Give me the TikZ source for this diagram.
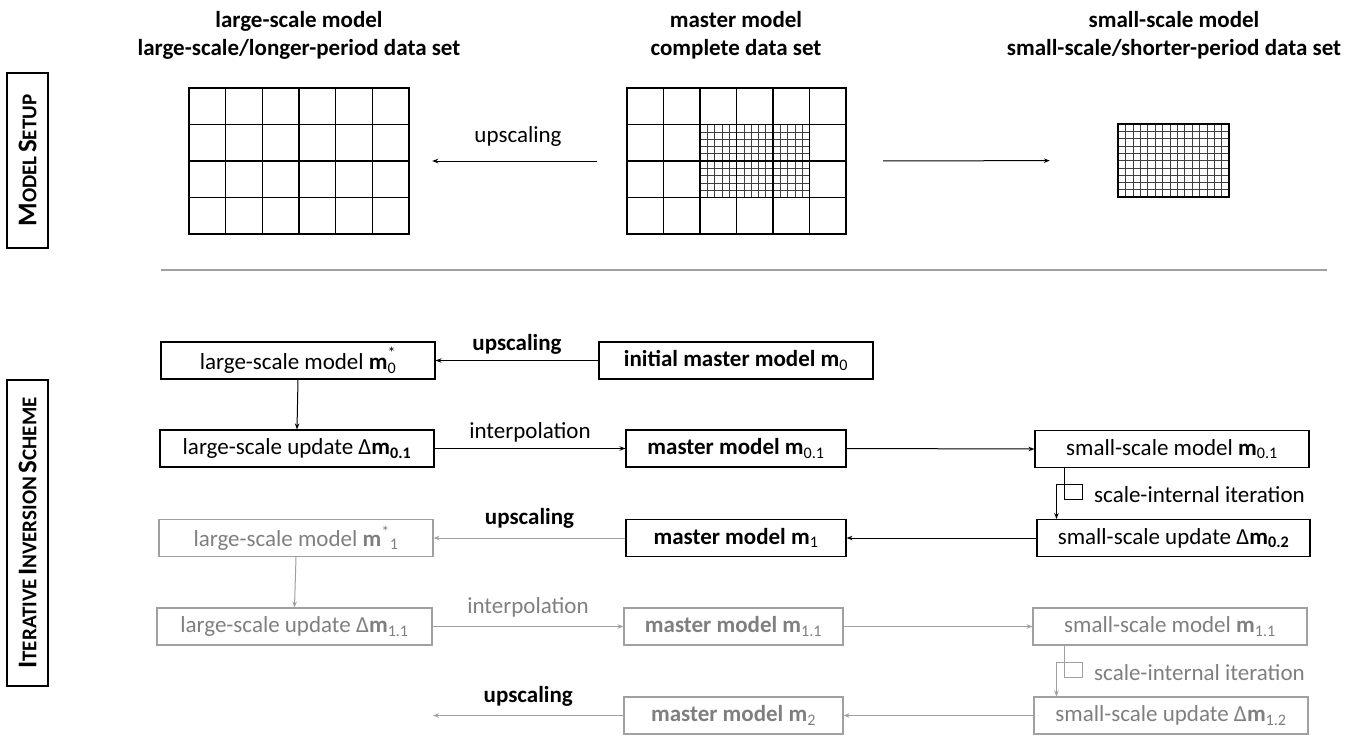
\documentclass[tikz,border=0pt]{standalone}
\usepackage{fontspec}
\setmainfont{Carlito}
\usetikzlibrary{arrows.meta,calc}
\definecolor{gline}{HTML}{A0A0A0}
\definecolor{gtext}{HTML}{7F7F7F}
\newcommand{\subsup}[2]{\rlap{\textsubscript{#1}}\raisebox{2pt}{\textsuperscript{#2}}}
\newcommand{\bigsc}[1]{{\fontsize{27}{27}\selectfont #1}}
\newcommand{\smsc}[1]{{\fontsize{21}{21}\selectfont #1}}
\newcommand{\scsp}{\hspace{0.35em}}
\begin{document}
\begin{tikzpicture}[x=1pt,y=-1pt, font=\fontsize{23}{28}\selectfont,
 box/.style={draw, line width=1.1pt, minimum height=37pt, inner sep=0pt},
 gbox/.style={box, draw=gline, text=gtext},
 arr/.style={-{Stealth[length=6pt,width=4.5pt]}, line width=1pt},
 garr/.style={arr, draw=gline},
 side/.style={draw, line width=1.6pt, rotate=90, minimum height=41pt, inner sep=0pt, font=\bfseries},
 title/.style={align=center, font=\fontsize{23}{28}\selectfont\bfseries},
 lbl/.style={inner sep=0pt},
 coarse/.style={line width=1.1pt},
 fine/.style={line width=0.6pt, draw=black!75},
 border/.style={line width=1.7pt}
]
\useasboundingbox (0,0) rectangle (1364,736);

% side labels
\node[side, minimum width=175pt] (sideA) at (27.5,160.5)
  {\bigsc{M}\smsc{ODEL}\scsp\bigsc{S}\smsc{ETUP}};
\node[side, minimum width=306pt] (sideB) at (27.5,533)
  {\bigsc{I}\smsc{TERATIVE}\scsp\bigsc{I}\smsc{NVERSION}\scsp\bigsc{S}\smsc{CHEME}};

% titles
\node[title] (tA) at (299,35) {large-scale model\\large-scale/longer-period data set};
\node[title] (tB) at (736,35) {master model\\complete data set};
\node[title] (tC) at (1174,35) {small-scale model\\small-scale/shorter-period data set};

% grid frames as nodes
\node[minimum width=220pt, minimum height=146pt, inner sep=0pt] (gl) at (299,161) {};
\node[minimum width=219pt, minimum height=146pt, inner sep=0pt] (gm) at (736.5,161) {};
\node[minimum width=111pt, minimum height=73pt, inner sep=0pt] (gs) at (1173.5,160.5) {};

% large-scale grid
\foreach \i in {1,...,5} \draw[coarse] (189+\i*36.667,88) -- (189+\i*36.667,234);
\foreach \j in {1,...,3} \draw[coarse] (189,88+\j*36.5) -- (409,88+\j*36.5);
\draw[border] (189,88) rectangle (409,234);

% master grid
\foreach \i in {1,...,14} \draw[fine] (700+\i*7.3,124.5) -- (700+\i*7.3,197.5);
\foreach \j in {1,...,9} \draw[fine] (700,124.5+\j*7.3) -- (809.5,124.5+\j*7.3);
\foreach \i in {1,...,5} \draw[coarse] (627+\i*36.5,88) -- (627+\i*36.5,234);
\foreach \j in {1,...,3} \draw[coarse] (627,88+\j*36.5) -- (846,88+\j*36.5);
\draw[border] (627,88) rectangle (846,234);

% small-scale grid
\foreach \i in {1,...,14} \draw[fine] (1118+\i*7.4,124) -- (1118+\i*7.4,197);
\foreach \j in {1,...,9} \draw[fine] (1118,124+\j*7.3) -- (1229,124+\j*7.3);
\draw[border] (1118,124) rectangle (1229,197);

% top arrows
\draw[arr, shorten <=30pt, shorten >=23pt] (gm.west) -- node[lbl, yshift=25pt] {upscaling} (gl.east);
\draw[arr, shorten <=37pt, shorten >=68pt] (gm.east) -- (gs.west);

% separator
\coordinate (sepL) at (161,270);
\coordinate (sepR) at (1327,270);
\draw[gline, line width=2pt] (sepL) -- (sepR);

% row 1
\node[box, minimum width=274pt] (ls0) at (298,360.5) {large-scale model \textbf{m}\subsup{0}{*}};
\node[box, minimum width=274pt] (im0) at (736,360.5) {\textbf{initial master model m}\textsubscript{0}};
% row 2
\node[box, minimum width=274pt] (lsu0) at (297,448.5) {large-scale update Δ\textbf{m\textsubscript{0.1}}};
\node[box, minimum width=220pt] (mm01) at (736,448.5) {\textbf{master model m}\textsubscript{0.1}};
\node[box, minimum width=274pt] (ss01) at (1172,449) {small-scale model \textbf{m}\textsubscript{0.1}};
% row 3
\node[box, minimum width=273pt] (ssu02) at (1173.5,538) {small-scale update Δ\textbf{m\textsubscript{0.2}}};
\node[box, minimum width=220pt] (mm1) at (736,538) {\textbf{master model m}\textsubscript{1}};
\node[gbox, minimum width=274pt] (ls1) at (296,538) {large-scale model \textbf{m}\textsuperscript{*}\textsubscript{1}};
% row 4
\node[gbox, minimum width=275pt] (lsu1) at (294.5,626.5) {large-scale update Δ\textbf{m}\textsubscript{1.1}};
\node[gbox, minimum width=219pt] (mm11) at (733.5,626.5) {\textbf{master model m}\textsubscript{1.1}};
\node[gbox, minimum width=274pt] (ss11) at (1170,626.5) {small-scale model \textbf{m}\textsubscript{1.1}};
% row 5
\node[gbox, minimum width=274pt] (ssu12) at (1171,715.5) {small-scale update Δ\textbf{m}\textsubscript{1.2}};
\node[gbox, minimum width=219pt] (mm2) at (733.5,715.5) {\textbf{master model m}\textsubscript{2}};
\coordinate (end2) at (433,715.5);

% connectors black
\draw[arr] (im0.west) -- node[lbl, yshift=16pt, font=\fontsize{23}{28}\selectfont\bfseries] {upscaling} (ls0.east);
\draw[arr] (ls0.south) -- (lsu0.north);
\draw[arr] (lsu0.east) -- node[lbl, yshift=16pt] {interpolation} (mm01.west);
\draw[arr] (mm01.east) -- (ss01.west);
\draw[line width=1pt] ([xshift=30pt]ss01.south west) -- ++(0,31) -- ++(18,0) -- ++(0,-15) -- ++(-26,0) coordinate (it0);
\draw[arr] (it0) -- (it0 |- ssu02.north);
\node[lbl, anchor=west] (sit0) at (1094,495) {scale-internal iteration};
\draw[arr] (ssu02.west) -- (mm1.east);

% connectors gray
\draw[garr] (mm1.west) -- node[lbl, yshift=20pt, font=\fontsize{23}{28}\selectfont\bfseries, text=black] {upscaling} (ls1.east);
\draw[garr] (ls1.south) -- (lsu1.north);
\draw[garr] (lsu1.east) -- node[lbl, yshift=19pt, text=gtext] {interpolation} (mm11.west);
\draw[garr] (mm11.east) -- (ss11.west);
\draw[line width=1pt, gline] ([xshift=32pt]ss11.south west) -- ++(0,32) -- ++(18,0) -- ++(0,-15) -- ++(-26,0) coordinate (it1);
\draw[garr] (it1) -- (it1 |- ssu12.north);
\node[lbl, anchor=west, text=gtext] (sit1) at (1094,673) {scale-internal iteration};
\draw[garr] (ssu12.west) -- (mm2.east);
\draw[garr] (mm2.west) -- node[lbl, yshift=19pt, font=\fontsize{23}{28}\selectfont\bfseries, text=black] {upscaling} (end2);
\end{tikzpicture}
\end{document}
